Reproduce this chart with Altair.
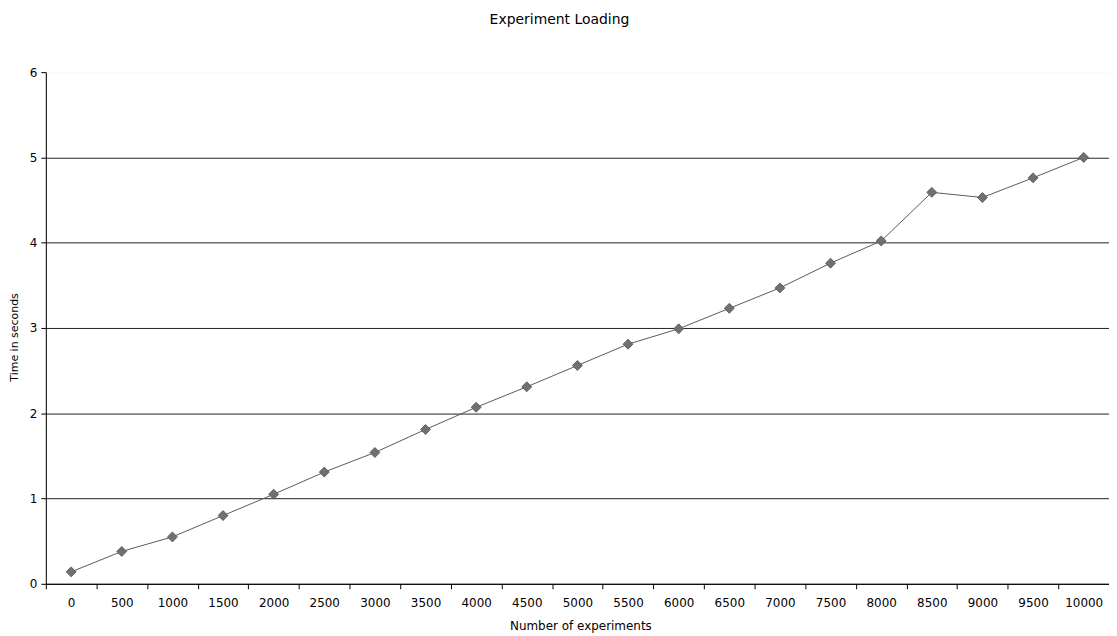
import altair as alt
import pandas as pd

experiments = ["0", "500", "1000", "1500", "2000", "2500", "3000", "3500", "4000", "4500",
               "5000", "5500", "6000", "6500", "7000", "7500", "8000", "8500", "9000", "9500", "10000"]
seconds = [0.14, 0.38, 0.55, 0.80, 1.05, 1.31, 1.54, 1.81, 2.07, 2.31,
           2.56, 2.81, 2.99, 3.23, 3.47, 3.76, 4.02, 4.59, 4.53, 4.76, 5.00]

df = pd.DataFrame({"experiments": experiments, "seconds": seconds})

FONT = "DejaVu Sans"
W, H = 1068, 514

x = alt.X(
    "experiments:N",
    sort=experiments,
    scale=alt.Scale(paddingInner=0, paddingOuter=0),
    axis=alt.Axis(
        title="Number of experiments",
        labelAngle=0,
        tickBand="extent",
        tickSize=5,
        tickColor="#000",
        domainColor="#000",
        labelColor="#000",
        labelFont=FONT,
        labelFontSize=12,
        labelPadding=9,
        titleFont=FONT,
        titleFontSize=12,
        titleFontWeight="normal",
        titleColor="#000",
        titleX=537,
        titleY=42,
        titleBaseline="middle",
        grid=False,
    ),
)

y = alt.Y(
    "seconds:Q",
    scale=alt.Scale(domain=[0, 6], nice=False, zero=True),
    axis=alt.Axis(
        title="Time in seconds",
        values=[0, 1, 2, 3, 4, 5, 6],
        format="d",
        tickSize=5,
        tickColor="#000",
        domainColor="#000",
        labelColor="#000",
        labelFont=FONT,
        labelFontSize=12,
        labelPadding=4,
        titleFont=FONT,
        titleFontSize=11,
        titleFontWeight="normal",
        titleColor="#000",
        titleAngle=-90,
        titleX=-31,
        titleY=266,
        titleAlign="center",
        titleBaseline="middle",
        grid=True,
        gridWidth=1,
        gridOpacity=1,
        gridColor=alt.condition("datum.value >= 6", alt.value("#ffffff"), alt.value("#222222")),
    ),
)

base = alt.Chart(df)
line = base.mark_line(color="#5a5a5a", strokeWidth=1).encode(x=x, y=y)
pts = base.mark_point(shape="diamond", filled=True, size=100, color="#707070",
                      stroke="#505050", strokeWidth=0.8, opacity=1).encode(x=x, y=y)

chart = (
    alt.layer(line, pts)
    .properties(
        width=W,
        height=H,
        title=alt.TitleParams(
            "Experiment Loading",
            font=FONT,
            fontSize=14,
            fontWeight="normal",
            color="#000",
            anchor="middle",
            dx=-18,
            offset=39,
        ),
        autosize=alt.AutoSizeParams(type="none"),
        padding={"left": 38, "top": 63, "right": 0, "bottom": 48},
    )
    .configure_view(strokeWidth=0, stroke="transparent")
    .configure(background="white")
)

chart.save("out.html", embed_options={"renderer": "svg", "actions": False})
